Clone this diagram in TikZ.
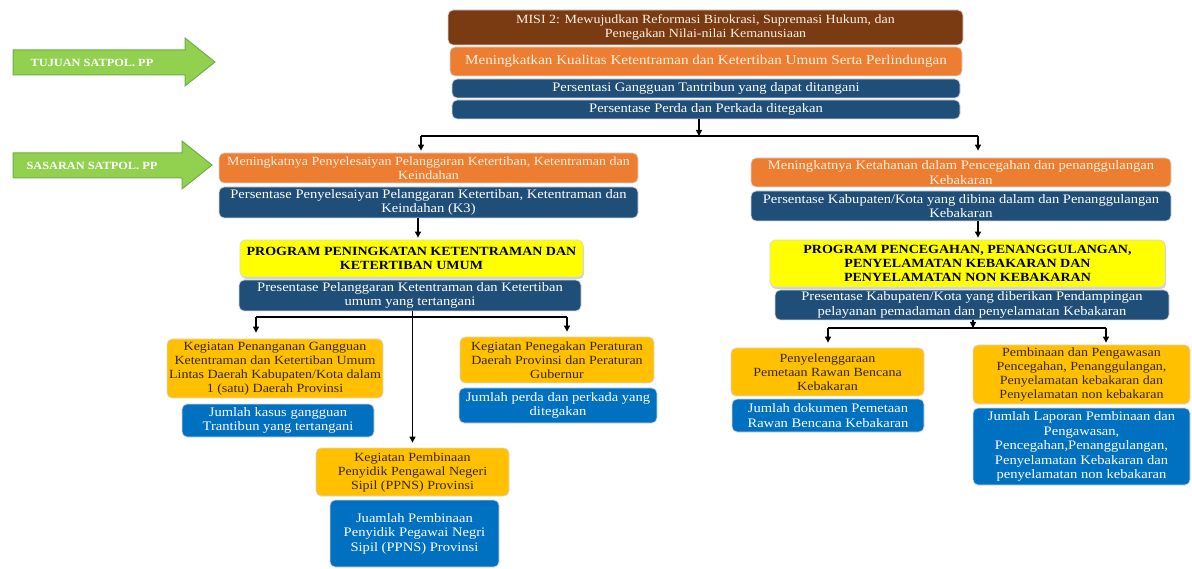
\documentclass[tikz,border=0pt]{standalone}
\usepackage{fontspec}
\setmainfont{Liberation Serif}[FakeStretch=1.12]
\usepackage{xcolor}
\usetikzlibrary{arrows.meta,shadows}

\definecolor{misibrown}{RGB}{122,58,18}
\definecolor{misitext}{RGB}{255,242,225}
\definecolor{tujuanorange}{RGB}{237,125,49}
\definecolor{inddark}{RGB}{31,78,121}
\definecolor{progyellow}{RGB}{255,255,0}
\definecolor{keggold}{RGB}{255,192,0}
\definecolor{kegtext}{RGB}{55,38,10}
\definecolor{jmlblue}{RGB}{0,112,192}
\definecolor{taggreen}{RGB}{146,208,80}
\definecolor{tagedge}{RGB}{112,173,71}

\begin{document}
\begin{tikzpicture}[x=1pt,y=-1pt,
        box/.style={rounded corners=5pt, draw=black!15, line width=0.8pt, inner sep=0pt,
            align=center, font=\fontsize{13}{14.5}\selectfont},
        misibox/.style={box, fill=misibrown, text=misitext, font=\fontsize{12.5}{14}\selectfont},
        tujuanbox/.style={box, fill=tujuanorange, text=misitext},
        indbox/.style={box, fill=inddark, text=white},
        progbox/.style={box, fill=progyellow, text=black, font=\fontsize{12.5}{14}\selectfont\bfseries,
            drop shadow={shadow xshift=1pt, shadow yshift=-2pt, opacity=0.35}},
        kegbox/.style={box, fill=keggold, text=kegtext, font=\fontsize{12.5}{14}\selectfont},
        jmlbox/.style={box, fill=jmlblue, text=white},
        arr/.style={-{Triangle[length=6pt,width=6pt]}, line width=1.2pt},
        tag/.style={text=white, font=\fontsize{11}{13}\selectfont\bfseries}]
        \fill[white] (0,0) rectangle (1192,569);
        \useasboundingbox (0,0) rectangle (1192,569);

        % Green tags (left)
        \filldraw[fill=taggreen,draw=tagedge,line width=1pt] (13,50) -- (185,50) -- (185,38) -- (215,62)
            -- (185,86) -- (185,75) -- (13,75) -- cycle;
        \node[tag] (tujuantag) at (92,62.5) {TUJUAN SATPOL. PP};
        \filldraw[fill=taggreen,draw=tagedge,line width=1pt] (13,153) -- (182,153) -- (182,141) -- (212,165)
            -- (182,189) -- (182,178) -- (13,178) -- cycle;
        \node[tag] (sasarantag) at (92,165.5) {SASARAN SATPOL. PP};

        % Misi and tujuan (top)
        \node[misibox, minimum width=515, minimum height=35] (misi) at (705.5,27.5)
            {MISI 2: Mewujudkan Reformasi Birokrasi, Supremasi Hukum, dan\\Penegakan Nilai-nilai Kemanusiaan};
        \node[tujuanbox, minimum width=512, minimum height=29, font=\fontsize{13.5}{15}\selectfont] (tujuan) at (706,61.5)
            {Meningkatkan Kualitas Ketentraman dan Ketertiban Umum Serta Perlindungan};
        \node[indbox, minimum width=508, minimum height=19] (ind1) at (706,88.5)
            {Persentasi Gangguan Tantribun yang dapat ditangani};
        \node[indbox, minimum width=508, minimum height=19] (ind2) at (706,109.5)
            {Persentase Perda dan Perkada ditegakan};

        % Sasaran (left)
        \node[tujuanbox, minimum width=419, minimum height=30, font=\fontsize{12.5}{14}\selectfont] (sasL) at (428.5,168)
            {Meningkatnya Penyelesaiyan Pelanggaran Ketertiban, Ketentraman dan\\Keindahan};
        \node[indbox, minimum width=419, minimum height=31] (indL) at (428.5,202.5)
            {Persentase Penyelesaiyan Pelanggaran Ketertiban, Ketentraman dan\\Keindahan (K3)};
        \node[progbox, minimum width=343, minimum height=37] (progL) at (411.5,258.5)
            {PROGRAM PENINGKATAN KETENTRAMAN DAN\\KETERTIBAN UMUM};
        \node[indbox, minimum width=342, minimum height=31] (indPL) at (410,295.5)
            {Presentase Pelanggaran Ketentraman dan Ketertiban\\umum yang tertangani};

        % Kegiatan (left)
        \node[kegbox, minimum width=216, minimum height=59] (keg1) at (275,368.5)
            {Kegiatan Penanganan Gangguan\\Ketentraman dan Ketertiban Umum\\Lintas Daerah Kabupaten/Kota dalam\\1 (satu) Daerah Provinsi};
        \node[jmlbox, minimum width=192, minimum height=33] (jml1) at (278,420.5)
            {Jumlah kasus gangguan\\Trantibun yang tertangani};
        \node[kegbox, minimum width=194, minimum height=46] (keg2) at (557,360)
            {Kegiatan Penegakan Peraturan\\Daerah Provinsi dan Peraturan\\Gubernur};
        \node[jmlbox, minimum width=198, minimum height=35] (jml2) at (558,405.5)
            {Jumlah perda dan perkada yang\\ditegakan};
        \node[kegbox, minimum width=193, minimum height=48] (keg3) at (412.5,472)
            {Kegiatan Pembinaan\\Penyidik Pengawal Negeri\\Sipil (PPNS) Provinsi};
        \node[jmlbox, minimum width=169, minimum height=67] (jml3) at (414.5,533.5)
            {Juamlah Pembinaan\\Penyidik Pegawai Negri\\Sipil (PPNS) Provinsi};

        % Sasaran (right)
        \node[tujuanbox, minimum width=420, minimum height=29] (sasR) at (961,172.5)
            {Meningkatnya Ketahanan dalam Pencegahan dan penanggulangan\\Kebakaran};
        \node[indbox, minimum width=420, minimum height=30] (indR) at (961,206)
            {Persentase Kabupaten/Kota yang dibina dalam dan Penanggulangan\\Kebakaran};
        \node[progbox, minimum width=395, minimum height=47] (progR) at (967.5,263.5)
            {PROGRAM PENCEGAHAN, PENANGGULANGAN,\\PENYELAMATAN KEBAKARAN DAN\\PENYELAMATAN NON KEBAKARAN};
        \node[indbox, minimum width=394, minimum height=30] (indPR) at (972,305)
            {Presentase Kabupaten/Kota yang diberikan Pendampingan\\pelayanan pemadaman dan penyelamatan Kebakaran};

        % Kegiatan (right)
        \node[kegbox, minimum width=193, minimum height=48] (keg4) at (827.5,372)
            {Penyelenggaraan\\Pemetaan Rawan Bencana\\Kebakaran};
        \node[jmlbox, minimum width=192, minimum height=33] (jml4) at (828,415.5)
            {Jumlah dokumen Pemetaan\\Rawan Bencana Kebakaran};
        \node[kegbox, minimum width=217, minimum height=59] (keg5) at (1081.5,374.5)
            {Pembinaan dan Pengawasan\\Pencegahan, Penanggulangan,\\Penyelamatan kebakaran dan\\Penyelamatan non kebakaran};
        \node[jmlbox, minimum width=217, minimum height=77] (jml5) at (1081.5,446.5)
            {Jumlah Laporan Pembinaan dan\\Pengawasan,\\Pencegahan,Penanggulangan,\\Penyelamatan Kebakaran dan\\penyelamatan non kebakaran};

        % Connectors (top)
        \coordinate (topj) at (699,136);
        \coordinate (aL) at (421,136);
        \coordinate (aR) at (978,136);
        \draw[arr] (ind2.south -| topj) -- (topj);
        \draw[line width=1.2pt] (aL) -- (aR);
        \draw[arr,shorten >=2pt] (aL) -- (aL |- sasL.north);
        \draw[arr,shorten >=7pt] (aR) -- (aR |- sasR.north);

        % Connectors (left)
        \coordinate (pL) at (418,0);
        \draw[arr,shorten >=2pt] (pL |- indL.south) -- (pL |- progL.north);
        \coordinate (bL1) at (256,317);
        \coordinate (bL2) at (567,317);
        \draw[line width=1.2pt] (bL1) -- (bL2);
        \draw[arr,shorten >=6pt] (bL1) -- (bL1 |- keg1.north);
        \draw[arr,shorten >=5pt] (bL2) -- (bL2 |- keg2.north);
        \draw[arr,shorten >=5pt] (indPL.south -| keg3.north) -- (keg3.north);

        % Connectors (right)
        \draw[arr,shorten >=2pt] (aR |- indR.south) -- (aR |- progR.north);
        \coordinate (jR) at (973,328);
        \coordinate (bR1) at (828,328);
        \coordinate (bR2) at (1106,328);
        \draw[arr] (indPR.south -| jR) -- (jR);
        \draw[line width=1.2pt] (bR1) -- (bR2);
        \draw[arr,shorten >=5pt] (bR1) -- (bR1 |- keg4.north);
        \draw[arr,shorten >=2pt] (bR2) -- (bR2 |- keg5.north);
    \end{tikzpicture}
\end{document}
